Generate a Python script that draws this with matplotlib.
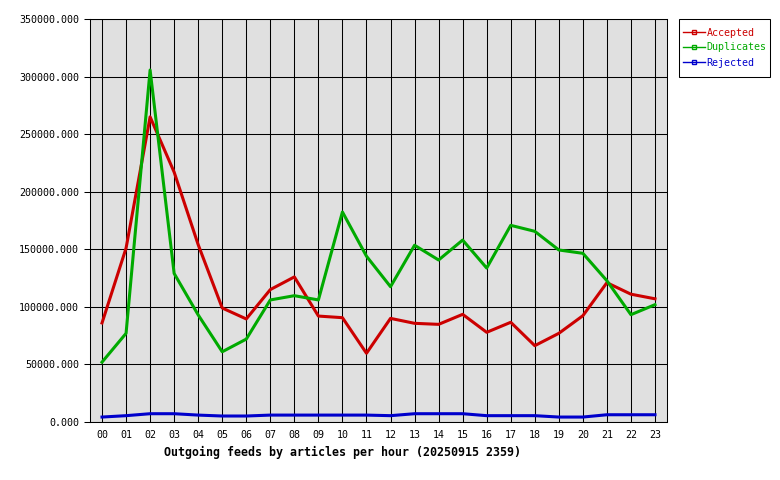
import matplotlib
matplotlib.use("Agg")
import matplotlib.pyplot as plt
from matplotlib.lines import Line2D
from matplotlib.patches import Rectangle

hours = ["%02d" % h for h in range(24)]
accepted = [86000, 151000, 265000, 217000, 154000, 99000, 89500, 115000, 126000, 92000,
            90600, 59700, 90000, 85700, 84800, 93500, 77900, 86600, 66300, 77000,
            92300, 121000, 111000, 107000]
duplicates = [52000, 77000, 305700, 129000, 93000, 61000, 72000, 106000, 109700, 106000,
              182400, 144000, 117500, 153500, 140700, 158000, 133700, 170800, 165600, 149400,
              146500, 122700, 93200, 101900]
rejected = [4300, 5500, 7200, 7200, 6000, 5200, 5200, 6000, 6000, 6000,
            6000, 6000, 5500, 7200, 7200, 7200, 5500, 5500, 5500, 4300,
            4300, 6300, 6300, 6300]

series = [("Accepted", accepted, "#cc0000"),
          ("Duplicates", duplicates, "#00aa00"),
          ("Rejected", rejected, "#0000cc")]

plt.rcParams["font.family"] = "DejaVu Sans Mono"

W, H = 780, 480
fig = plt.figure(figsize=(7.8, 4.8), dpi=100)
ax = fig.add_axes([90 / W, 58 / H, 577 / W, 403 / H])
ax.set_facecolor("#e0e0e0")

x = list(range(len(hours)))
for name, vals, col in series:
    ax.plot(x, vals, color=col, linewidth=2.2, zorder=3)

ax.set_xlim(-0.5, 23.5)
ax.set_ylim(0, 350000)
ax.set_xticks(x)
ax.set_xticklabels(hours)
ax.set_yticks(range(0, 350001, 50000))
ax.set_yticklabels(["%.3f" % v for v in range(0, 350001, 50000)])
ax.tick_params(axis="x", length=0, pad=6, labelsize=7.2)
ax.tick_params(axis="y", length=4, width=0.75, pad=4, labelsize=7.2)
ax.grid(True, color="black", linewidth=0.75, zorder=1)
ax.set_axisbelow(True)
for s in ax.spines.values():
    s.set_linewidth(0.75)
    s.set_color("black")

fig.text(343 / W, 1 - 452 / H, "Outgoing feeds by articles per hour (20250915 2359)",
         ha="center", va="center", fontsize=8.4, fontweight="bold")

# legend box drawn separately so it can be taller than the entries need
fig.patches.append(Rectangle((679 / W, 1 - 77 / H), 91 / W, 58 / H,
                             transform=fig.transFigure, facecolor="white",
                             edgecolor="black", linewidth=0.75))
handles = [Line2D([0], [0], color=col, linewidth=1, marker="s", markersize=2.5,
                  markerfacecolor="none", markeredgecolor=col) for _, _, col in series]
leg = fig.legend(handles, [s[0] for s in series], loc="upper left",
                 bbox_to_anchor=(679 / W, 1 - 24 / H), fontsize=7.2,
                 frameon=False, handlelength=2.2, handletextpad=0.2,
                 borderpad=0.35, labelspacing=0.5, borderaxespad=0)
for txt, (_, _, col) in zip(leg.get_texts(), series):
    txt.set_color(col)

fig.savefig("out.png", dpi=100)
